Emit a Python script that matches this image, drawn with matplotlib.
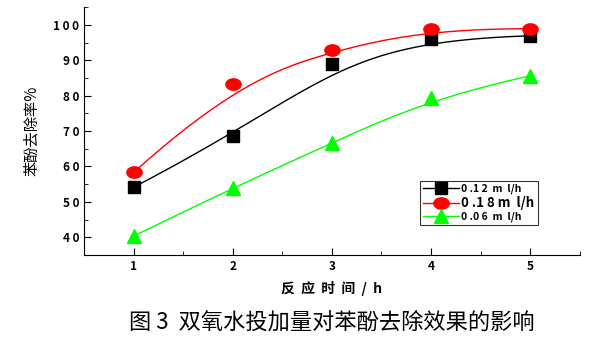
import matplotlib
matplotlib.use("Agg")
import matplotlib.pyplot as plt
import numpy as np
from matplotlib.path import Path
from matplotlib.transforms import Affine2D
from matplotlib.ticker import MultipleLocator, FuncFormatter

plt.rcParams['font.family'] = ['Noto Sans CJK SC', 'DejaVu Sans']

# reaction time (h) and phenol removal (%)
hours = [1, 2, 3, 4, 5]
removal_012 = [54.1, 68.7, 89.0, 96.0, 96.9]
removal_018 = [58.3, 83.4, 93.0, 98.9, 98.9]
removal_006 = [40.3, 54.0, 66.5, 79.4, 85.6]

labels = ["0 .1 2  m  l/h", "0 .1 8 m  l/h", "0 .0 6  m  l/h"]
colors = ["black", "red", "#00ff00"]

# slightly flattened circle marker
ellipse = Path.unit_circle().transformed(Affine2D().scale(1.35, 1.0))
markers = ["s", ellipse, "^"]
msizes = [9, 11, 10]


def bspline(xs, ys, k=3, n=200):
    # clamped B-spline using the points as control polygon
    pts = np.column_stack([xs, ys]).astype(float)
    m = len(pts)
    knots = np.concatenate([np.zeros(k), np.linspace(0, 1, m - k + 1), np.ones(k)])
    t = np.linspace(0, 1 - 1e-9, n)
    out = []
    for tt in t:
        i = np.searchsorted(knots, tt, side="right") - 1
        d = [pts[j + i - k].copy() for j in range(k + 1)]
        for r in range(1, k + 1):
            for j in range(k, r - 1, -1):
                a = (tt - knots[j + i - k]) / (knots[j + 1 + i - r] - knots[j + i - k])
                d[j] = (1 - a) * d[j - 1] + a * d[j]
        out.append(d[k])
    out.append(pts[-1])
    out = np.array(out)
    return out[:, 0], out[:, 1]


fig = plt.figure(figsize=(6.04, 3.39), dpi=100)
ax = fig.add_axes([0.139, 0.248, 0.821, 0.731])

for ys, lab, c, mk, ms in zip([removal_012, removal_018, removal_006], labels, colors, markers, msizes):
    cx, cy = bspline(hours, ys)
    ax.plot(cx, cy, color=c, lw=1.0)
    ax.plot(hours, ys, linestyle="none", marker=mk, color=c, markersize=ms)
    ax.plot([], [], color=c, lw=1.0, marker=mk, markersize=ms, label=lab)

ax.set_xlim(0.5, 5.5)
ax.set_ylim(35, 105)
ax.xaxis.set_major_locator(MultipleLocator(1))
ax.xaxis.set_minor_locator(MultipleLocator(0.5))
ax.yaxis.set_major_locator(MultipleLocator(10))
ax.yaxis.set_minor_locator(MultipleLocator(5))
ax.yaxis.set_major_formatter(FuncFormatter(lambda v, p: " ".join(str(int(v)))))
ax.tick_params(which="both", direction="in", labelsize=8.5)
ax.tick_params(which="major", length=5)
ax.tick_params(which="minor", length=3)
for lbl in ax.get_xticklabels() + ax.get_yticklabels():
    lbl.set_fontweight("bold")
for s in ["top", "right"]:
    ax.spines[s].set_visible(False)

ax.set_ylabel("苯酚去除率%", fontsize=11, labelpad=9)
ax.set_xlabel("反  应  时  间  /  h", fontsize=10, fontweight="bold", labelpad=6)

leg = ax.legend(loc="lower right", bbox_to_anchor=(0.915, 0.12), fontsize=7.5,
                frameon=True, fancybox=False, edgecolor="black", handlelength=3.5,
                handletextpad=0.2, borderpad=0.3, labelspacing=0.15, borderaxespad=0)
leg.get_frame().set_linewidth(0.8)
for i, t in enumerate(leg.get_texts()):
    t.set_fontweight("bold")
    if i == 1:
        t.set_fontsize(9.5)

fig.text(0.55, 0.05, "图 3  双氧水投加量对苯酚去除效果的影响", ha="center", va="center", fontsize=16)

fig.savefig("out.png", dpi=100)
